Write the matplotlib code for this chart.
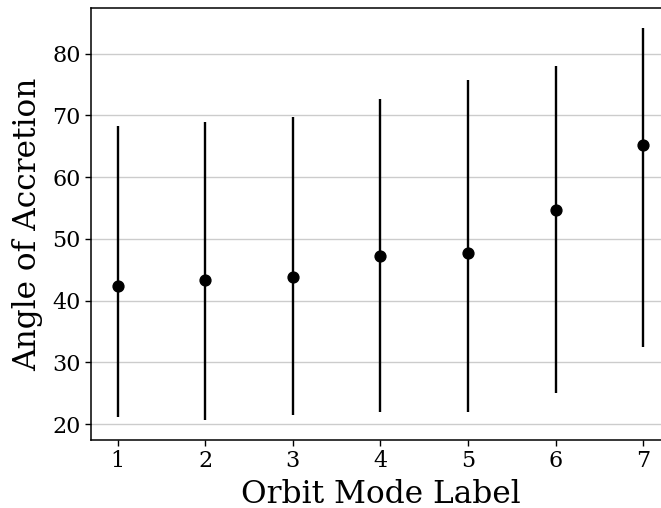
import matplotlib.pyplot as plt

modes = [1, 2, 3, 4, 5, 6, 7]
angle = [42.4, 43.4, 43.8, 47.2, 47.7, 54.6, 65.2]
angle_low = [21.2, 20.6, 21.5, 21.9, 21.9, 25.1, 32.4]
angle_high = [68.2, 68.9, 69.8, 72.7, 75.7, 78.0, 84.2]

plt.rcParams['font.family'] = 'DejaVu Serif'

fig = plt.figure(figsize=(6.61, 5.08), dpi=100, facecolor='white')
# axes run past the right edge of the figure
ax = fig.add_axes([91.3 / 661, 68 / 508, 578.3 / 661, 432 / 508])

yerr = [[a - lo for a, lo in zip(angle, angle_low)],
        [hi - a for a, hi in zip(angle, angle_high)]]
ax.errorbar(modes, angle, yerr=yerr, fmt='o', color='black', ecolor='black',
            elinewidth=1.7, markersize=7.8, capsize=0, zorder=3)

ax.set_xlim(0.7, 7.3)
ax.set_ylim(17.42, 87.38)
ax.set_xticks(modes)
ax.set_yticks([20, 30, 40, 50, 60, 70, 80])
ax.yaxis.grid(True, color='#cccccc', linewidth=1.0, zorder=0)
ax.set_axisbelow(True)

ax.tick_params(labelsize=16, length=4, width=1)
for s in ax.spines.values():
    s.set_linewidth(1.1)

ax.set_xlabel('Orbit Mode Label', fontsize=22.5, labelpad=5)
ax.set_ylabel('Angle of Accretion', fontsize=22.5, labelpad=7)

fig.savefig('out.png', dpi=100, facecolor='white')
